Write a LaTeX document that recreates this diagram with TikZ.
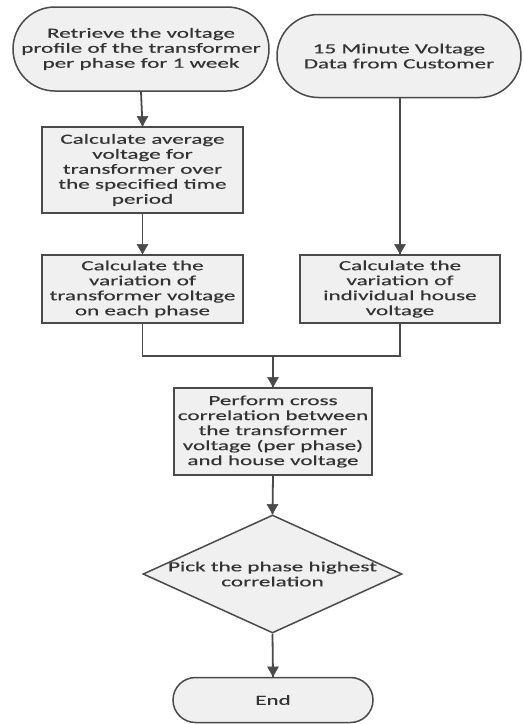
\documentclass[tikz,border=0pt]{standalone}
\usepackage{fontspec}
\setmainfont[FakeStretch=1.65,FakeBold=0.4]{Carlito}
\usetikzlibrary{shapes.misc,shapes.geometric}
\definecolor{edgec}{HTML}{4A4A4A}
\definecolor{txtc}{HTML}{333333}
\definecolor{boxfill}{HTML}{F0F0F0}
\tikzset{
  base/.style={draw=edgec, line width=1.5pt, fill=boxfill,
    align=center, inner sep=0pt,
    font=\fontsize{14}{15}\selectfont},
  term/.style={base, rounded rectangle},
  procbox/.style={base, rectangle},
  decis/.style={base, diamond},
  wire/.style={draw=edgec, line width=1.8pt},
  headtip/.style={regular polygon, regular polygon sides=3, shape border rotate=180,
    fill=edgec, draw=edgec, line width=0.5pt, inner sep=0pt, minimum size=12.5pt, anchor=corner 1}
}
\begin{document}
\color{txtc}
\begin{tikzpicture}[x=1pt,y=1pt]
\fill[white] (0,0) rectangle (523,-724);
\useasboundingbox (0,0) rectangle (523,-724);
\node[term, minimum width=256pt, minimum height=84pt] (t1) at (141,-49)
  {Retrieve the voltage\\profile of the transformer\\per phase for 1 week};
\node[term, minimum width=244pt, minimum height=83pt] (t2) at (399,-56)
  {15 Minute Voltage\\Data from Customer};
\node[procbox, minimum width=201pt, minimum height=86pt] (b1) at (142.5,-170)
  {Calculate average\\voltage for\\transformer over\\the specified time\\period};
\node[procbox, minimum width=201pt, minimum height=68pt] (b2) at (142.5,-289)
  {Calculate the\\variation of\\transformer voltage\\on each phase};
\node[procbox, minimum width=200pt, minimum height=68pt] (b3) at (400,-289)
  {Calculate the\\variation of\\individual house\\voltage};
\node[procbox, minimum width=198pt, minimum height=87pt] (b4) at (273,-431.5)
  {Perform cross\\correlation between\\the transformer\\voltage (per phase)\\and house voltage};
\node[decis, minimum width=259pt, minimum height=118pt] (d) at (272.5,-574) {};
\node[align=center, font=\fontsize{14}{15}\selectfont] (dt) at (d.center)
  {Pick the phase highest\\correlation};
\node[term, minimum width=200pt, minimum height=45pt] (e) at (273,-700) {End};
\coordinate (m) at (273,-356);
% connectors
\draw[wire] (t1.south) -- (b1.north);
\draw[wire] (b1.south) -- (b2.north);
\draw[wire] (t2.south -| b3.north) -- (b3.north);
\draw[wire] (b2.south) -- (b2.south |- m) -- (b3.south |- m) -- (b3.south);
\draw[wire] (m) -- (b4.north);
\draw[wire] (b4.south) -- (d.north);
\draw[wire] (d.south) -- (e.north);
% arrowheads
\node[headtip] (h1) at (b1.north) {};
\node[headtip] (h2) at (b2.north) {};
\node[headtip] (h3) at (b3.north) {};
\node[headtip] (h4) at (b4.north) {};
\node[headtip] (h5) at (d.north) {};
\node[headtip] (h6) at (e.north) {};
\end{tikzpicture}
\end{document}
